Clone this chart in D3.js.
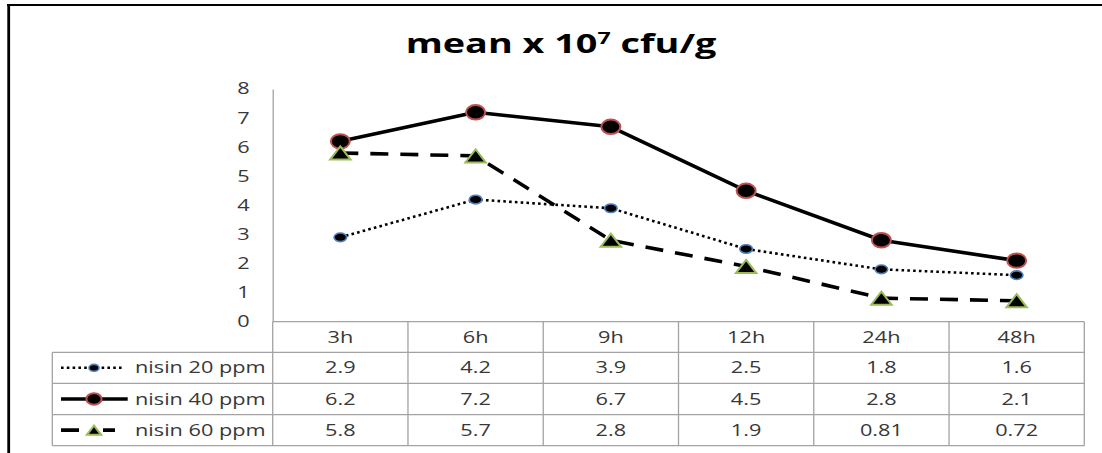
<!DOCTYPE html>
<html><head><meta charset="utf-8">
<script src="https://cdn.jsdelivr.net/npm/d3@7"></script>
<style>html,body{margin:0;padding:0;background:#fff;} svg{display:block;}</style>
</head><body><svg id="chart" width="1102" height="453"></svg>
<script>
// Data
const categories = ["3h", "6h", "9h", "12h", "24h", "48h"];
const nisin20 = [2.9, 4.2, 3.9, 2.5, 1.8, 1.6];
const nisin40 = [6.2, 7.2, 6.7, 4.5, 2.8, 2.1];
const nisin60 = [5.8, 5.7, 2.8, 1.9, 0.81, 0.72];
const seriesNames = ["nisin 20 ppm", "nisin 40 ppm", "nisin 60 ppm"];
const yTicks = [0, 1, 2, 3, 4, 5, 6, 7, 8];

const W = 1102, H = 453;
const SX = 1.41;                       // horizontal stretch applied to all text
const FONT = '"Open Sans", sans-serif';
const GRID = "#a3a3a3";
const TXT = "#383838";

const svg = d3.select("#chart");
svg.append("rect").attr("width", W).attr("height", H).attr("fill", "#fff");

// outer frame (top and left edges)
svg.append("line").attr("x1", 7).attr("x2", W).attr("y1", 5).attr("y2", 5)
  .attr("stroke", "#000").attr("stroke-width", 2.2);
svg.append("line").attr("x1", 8.7).attr("x2", 8.7).attr("y1", 4).attr("y2", H)
  .attr("stroke", "#000").attr("stroke-width", 2.8);

// geometry
const plotLeft = 272.7, plotRight = 1084.3, plotTop = 89, plotBottom = 321.7;
const rowEdges = [321.7, 352.3, 383.3, 414.6, 445.7];
const legendLeft = 52.3;

const x = d3.scaleBand().domain(categories).range([plotLeft, plotRight]);
const y = d3.scaleLinear().domain([0, 8]).range([plotBottom, plotTop]);
const cx = c => x(c) + x.bandwidth() / 2;

function stext(g, px, py, str, o = {}) {
  return g.append("text")
    .attr("transform", `translate(${px},${py}) scale(${SX},1)`)
    .attr("text-anchor", o.anchor || "middle")
    .attr("font-family", FONT)
    .attr("font-size", o.size || 15.4)
    .attr("font-weight", o.weight || "normal")
    .attr("fill", o.fill || TXT)
    .text(str);
}

// title
const title = svg.append("text")
  .attr("transform", `translate(561,53.3) scale(${SX},1)`)
  .attr("text-anchor", "middle")
  .attr("font-family", FONT).attr("font-weight", "bold")
  .attr("font-size", 26.8).attr("fill", "#000");
title.append("tspan").text("mean x 10");
title.append("tspan").attr("font-size", 16.5).attr("dy", -9.5).text("7");
title.append("tspan").attr("dy", 9.5).text(" cfu/g");

// y axis
const yAxis = svg.append("g").attr("transform", `translate(${plotLeft},0)`)
  .call(d3.axisLeft(y).tickValues(yTicks).tickSize(0).tickSizeOuter(0).tickPadding(23));
yAxis.select(".domain").attr("stroke", GRID).attr("stroke-width", 1.3);
yAxis.selectAll(".tick text")
  .attr("x", -23 / SX)
  .attr("transform", `scale(${SX},1)`)
  .attr("font-family", FONT).attr("font-size", 15.4).attr("fill", TXT);

// data table grid
const tbl = svg.append("g").attr("stroke", GRID).attr("stroke-width", 1.3).attr("fill", "none");
tbl.append("line").attr("x1", plotLeft).attr("x2", plotRight).attr("y1", rowEdges[0]).attr("y2", rowEdges[0]);
rowEdges.slice(1).forEach(ry => {
  tbl.append("line").attr("x1", legendLeft).attr("x2", plotRight).attr("y1", ry).attr("y2", ry);
});
tbl.append("line").attr("x1", legendLeft).attr("x2", legendLeft).attr("y1", rowEdges[1]).attr("y2", rowEdges[4]);
categories.forEach(c => {
  tbl.append("line").attr("x1", x(c)).attr("x2", x(c)).attr("y1", rowEdges[0]).attr("y2", rowEdges[4]);
});
tbl.append("line").attr("x1", plotRight).attr("x2", plotRight).attr("y1", rowEdges[0]).attr("y2", rowEdges[4]);

const rowMid = i => (rowEdges[i] + rowEdges[i + 1]) / 2;
const tg = svg.append("g");
categories.forEach(c => stext(tg, cx(c), rowMid(0) + 5.6, c));
[nisin20, nisin40, nisin60].forEach((vals, si) => {
  vals.forEach((v, i) => stext(tg, cx(categories[i]), rowMid(si + 1) + 5.6, String(v)));
  stext(tg, 135, rowMid(si + 1) + 5.6, seriesNames[si], { anchor: "start" });
});

// series styles
const styles = [
  { width: 2.6, dash: "2.6,3.2", cap: "butt", marker: "dot" },
  { width: 3.6, dash: null, cap: "round", marker: "circle" },
  { width: 3.6, dash: "18,12", cap: "butt", marker: "triangle" }
];

function drawMarker(g, kind, px, py, k = 1) {
  if (kind === "dot") {
    g.append("ellipse").attr("cx", px).attr("cy", py).attr("rx", 6.3 * k).attr("ry", 4.3 * k)
      .attr("fill", "#000").attr("stroke", "#4f81bd").attr("stroke-width", 1.6);
  } else if (kind === "circle") {
    g.append("ellipse").attr("cx", px).attr("cy", py).attr("rx", 9.5 * k).attr("ry", 7.2 * k)
      .attr("fill", "#000").attr("stroke", "#c0504d").attr("stroke-width", 2);
  } else {
    const hw = 10.2 * k, hh = 6.6 * k;
    g.append("path")
      .attr("d", `M${px},${py - hh}L${px + hw},${py + hh}L${px - hw},${py + hh}Z`)
      .attr("fill", "#000").attr("stroke", "#9bbb59").attr("stroke-width", 2).attr("stroke-linejoin", "miter");
  }
}

const line = d3.line().x((d, i) => cx(categories[i])).y(d => y(d));
[nisin20, nisin40, nisin60].forEach((vals, si) => {
  const st = styles[si];
  const g = svg.append("g");
  g.append("path").attr("d", line(vals)).attr("fill", "none")
    .attr("stroke", "#000").attr("stroke-width", st.width)
    .attr("stroke-dasharray", st.dash).attr("stroke-linecap", st.cap).attr("stroke-linejoin", "round");
  vals.forEach((v, i) => drawMarker(g, st.marker, cx(categories[i]), y(v)));
});

// legend keys
const lg = svg.append("g");
const legendSpans = [[61, 121.7, null], [61, 127.7, null], [61, 115, "18,24,12"]];
styles.forEach((st, si) => {
  const ly = rowMid(si + 1);
  lg.append("line").attr("x1", legendSpans[si][0]).attr("x2", legendSpans[si][1])
    .attr("y1", ly).attr("y2", ly).attr("stroke", "#000").attr("stroke-width", st.width)
    .attr("stroke-dasharray", legendSpans[si][2] || st.dash);
  drawMarker(lg, st.marker, 94, ly, si === 2 ? 0.7 : 0.8);
});
</script>
</body></html>
